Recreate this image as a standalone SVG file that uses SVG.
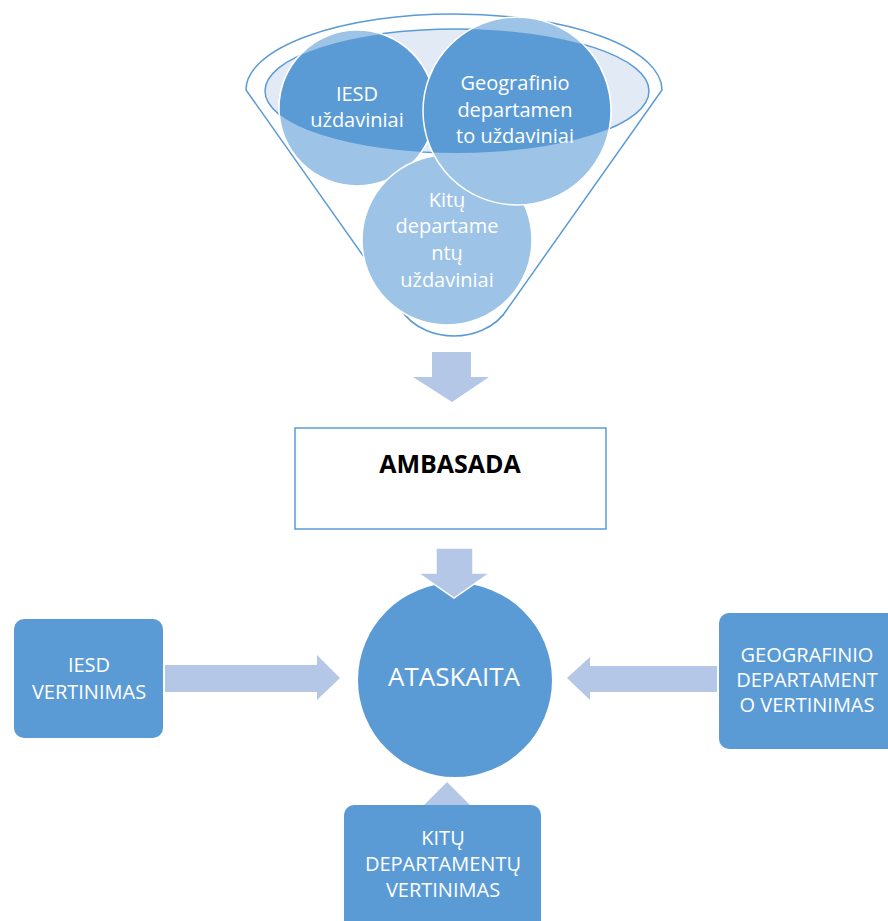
<svg xmlns="http://www.w3.org/2000/svg" width="888" height="921" viewBox="0 0 888 921">
<style>
.t{font-family:"Open Sans","Liberation Sans",sans-serif;fill:#fff;text-anchor:middle;font-size:20px}
.box{fill:#5b9bd5}
.arr{fill:#b4c7e7}
.lc{fill:#9dc3e6;stroke:#fff;stroke-width:1.5}
.dc{fill:#5b9bd5;stroke:#fff;stroke-width:1.5}
</style>
<defs>
<clipPath id="inner"><ellipse cx="457" cy="91" rx="192" ry="62"/></clipPath>
</defs>
<rect width="888" height="921" fill="#fff"/>
<g id="funnel">
<path d="M246 90 A208 76 0 0 1 662 90 L508 308 C495 330 470 336 454 336 C438 336 413 330 400 308 Z" fill="#fff" stroke="#5b9bd5" stroke-width="1.5"/>
<ellipse cx="457" cy="91" rx="192" ry="62" fill="#e2eaf6" stroke="#5b9bd5" stroke-width="1.5"/>
<circle class="lc" cx="357" cy="108" r="78"/>
<circle class="lc" cx="447" cy="240" r="85"/>
<circle class="lc" cx="517" cy="111" r="94"/>
<g clip-path="url(#inner)">
<circle class="dc" cx="357" cy="108" r="78"/>
<circle class="dc" cx="447" cy="240" r="85"/>
<circle class="dc" cx="517" cy="111" r="94"/>
</g>
</g>
<g id="iesd-uzdaviniai">
<text class="t" x="357" y="101">IESD</text>
<text class="t" x="357" y="127">uždaviniai</text>
</g>
<g id="geografinio-uzdaviniai">
<text class="t" x="515" y="90">Geografinio</text>
<text class="t" x="515" y="117">departamen</text>
<text class="t" x="515" y="143">to uždaviniai</text>
</g>
<g id="kitu-uzdaviniai">
<text class="t" x="447" y="207">Kitų</text>
<text class="t" x="447" y="233">departame</text>
<text class="t" x="447" y="260">ntų</text>
<text class="t" x="447" y="287">uždaviniai</text>
</g>
<g id="ambasada">
<rect x="295" y="428" width="311" height="101" fill="#fff" stroke="#5b9bd5" stroke-width="1.5"/>
<text x="450" y="473" text-anchor="middle" font-family="'Open Sans','Liberation Sans',sans-serif" font-weight="700" font-size="25" fill="#000">AMBASADA</text>
</g>
<g id="ataskaita">
<circle cx="455" cy="680" r="97" fill="#5b9bd5"/>
<text class="t" x="454" y="686" style="font-size:26px">ATASKAITA</text>
</g>
<g id="iesd-vertinimas">
<rect class="box" x="14" y="619" width="149" height="119" rx="10"/>
<text class="t" x="89" y="672">IESD</text>
<text class="t" x="89" y="699">VERTINIMAS</text>
</g>
<g id="geografinio-vertinimas">
<rect class="box" x="719" y="613" width="180" height="136" rx="10"/>
<text class="t" x="807" y="662">GEOGRAFINIO</text>
<text class="t" x="807" y="687">DEPARTAMENT</text>
<text class="t" x="807" y="712">O VERTINIMAS</text>
</g>
<g id="connectors">
<path class="arr" d="M432 352 H471 V377 H489 L452 402 L413 377 H432 Z"/>
<path class="arr" d="M436 548 H473 V573 H490 L454 598 L418 573 H436 Z" stroke="#fff" stroke-width="1.5"/>
<path class="arr" d="M165 665 H317 V655 L340 678 L317 700 V692 H165 Z"/>
<path class="arr" d="M717 666 H590 V657 L567 678 L590 700 V692 H717 Z"/>
<path class="arr" d="M423 806 L447 782 L471 806 Z"/>
</g>
<g id="kitu-vertinimas">
<rect class="box" x="344" y="805" width="197" height="125" rx="10"/>
<text class="t" x="443" y="845">KITŲ</text>
<text class="t" x="443" y="871">DEPARTAMENTŲ</text>
<text class="t" x="443" y="897">VERTINIMAS</text>
</g>
</svg>
